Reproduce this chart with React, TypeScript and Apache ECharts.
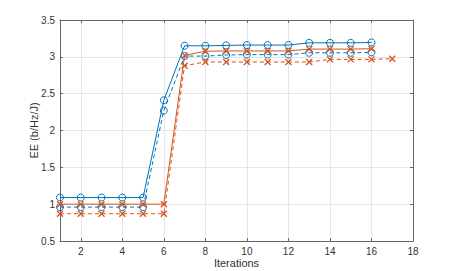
import React, { useEffect, useRef } from "react";
import * as echarts from "echarts";

const xTicks = [2, 4, 6, 8, 10, 12, 14, 16, 18];
const blueSolid = [1.09, 1.09, 1.09, 1.09, 1.09, 2.41, 3.15, 3.15, 3.155, 3.16, 3.16, 3.16, 3.19, 3.19, 3.19, 3.195];
const blueDashed = [0.96, 0.96, 0.96, 0.96, 0.96, 2.27, 3.01, 3.01, 3.025, 3.03, 3.03, 3.03, 3.055, 3.055, 3.055, 3.06];
const orangeSolid = [1.0, 1.0, 1.0, 1.0, 1.0, 1.0, 3.02, 3.075, 3.08, 3.08, 3.08, 3.08, 3.105, 3.105, 3.105, 3.11];
const orangeDashed = [0.87, 0.87, 0.87, 0.87, 0.87, 0.87, 2.88, 2.93, 2.93, 2.93, 2.93, 2.93, 2.93, 2.965, 2.965, 2.965, 2.975];

const BLUE = "#0072BD";
const ORANGE = "#D95319";
const CROSS = "path://M0,0L10,10M10,0L0,10";

const toPairs = (arr: number[]) => arr.map((v, i) => [i + 1, v]);

export default function App() {
  const ref = useRef<HTMLDivElement>(null);
  useEffect(() => {
    if (!ref.current) return;
    const chart = echarts.init(ref.current, null, { renderer: "svg" });
    const font = "'Liberation Sans', Arial, sans-serif";
    const axisLineStyle = { color: "#666", width: 1 };
    const mkSeries = (name: string, arr: number[], color: string, dashed: boolean, cross: boolean) => ({
      name,
      type: "line",
      data: toPairs(arr),
      symbol: cross ? CROSS : "circle",
      symbolSize: cross ? 6 : 7,
      showAllSymbol: true,
      lineStyle: { color, width: 1, type: dashed ? [4, 3] : "solid" },
      itemStyle: { color: cross ? color : "rgba(0,0,0,0)", borderColor: color, borderWidth: cross ? 1.3 : 1 },
      emphasis: { disabled: true },
      z: 3,
    });
    chart.setOption({
      animation: false,
      grid: { left: 60, right: 44, top: 20, bottom: 30, containLabel: false, outerBoundsMode: "none" },
      xAxis: [
        {
          type: "value",
          min: 1,
          max: 18,
          position: "bottom",
          name: "Iterations",
          nameLocation: "middle",
          nameGap: 16,
          nameMoveOverlap: false,
          nameTextStyle: { fontFamily: font, fontSize: 11, color: "#333" },
          axisLine: { show: true, onZero: false, lineStyle: axisLineStyle },
          axisTick: { show: true, inside: true, length: 3, customValues: xTicks, lineStyle: axisLineStyle },
          axisLabel: { customValues: xTicks, fontFamily: font, fontSize: 10, color: "#333", margin: 5 },
          splitLine: { show: true, lineStyle: { color: "#e6e6e6", width: 1 } },
        },
        {
          type: "value",
          min: 1,
          max: 18,
          position: "top",
          axisLine: { show: true, onZero: false, lineStyle: axisLineStyle },
          axisTick: { show: true, inside: true, length: 3, customValues: xTicks, lineStyle: axisLineStyle },
          axisLabel: { show: false },
          splitLine: { show: false },
        },
      ],
      yAxis: [
        {
          type: "value",
          min: 0.5,
          max: 3.5,
          interval: 0.5,
          position: "left",
          name: "EE (b/Hz/J)",
          nameLocation: "middle",
          nameGap: 21,
          nameMoveOverlap: false,
          nameTextStyle: { fontFamily: font, fontSize: 11, color: "#333" },
          axisLine: { show: true, onZero: false, lineStyle: axisLineStyle },
          axisTick: { show: true, inside: true, length: 3, lineStyle: axisLineStyle },
          axisLabel: { fontFamily: font, fontSize: 10, color: "#333", margin: 5 },
          splitLine: { show: true, lineStyle: { color: "#e6e6e6", width: 1 } },
        },
        {
          type: "value",
          min: 0.5,
          max: 3.5,
          interval: 0.5,
          position: "right",
          axisLine: { show: true, onZero: false, lineStyle: axisLineStyle },
          axisTick: { show: true, inside: true, length: 3, lineStyle: axisLineStyle },
          axisLabel: { show: false },
          splitLine: { show: false },
        },
      ],
      series: [
        mkSeries("blueSolid", blueSolid, BLUE, false, false),
        mkSeries("blueDashed", blueDashed, BLUE, true, false),
        mkSeries("orangeSolid", orangeSolid, ORANGE, false, true),
        mkSeries("orangeDashed", orangeDashed, ORANGE, true, true),
      ],
    });
    return () => chart.dispose();
  }, []);
  return (
    <div
      ref={ref}
      style={{ position: "fixed", left: 0, top: 0, width: 457, height: 271, background: "#fff" }}
    />
  );
}
